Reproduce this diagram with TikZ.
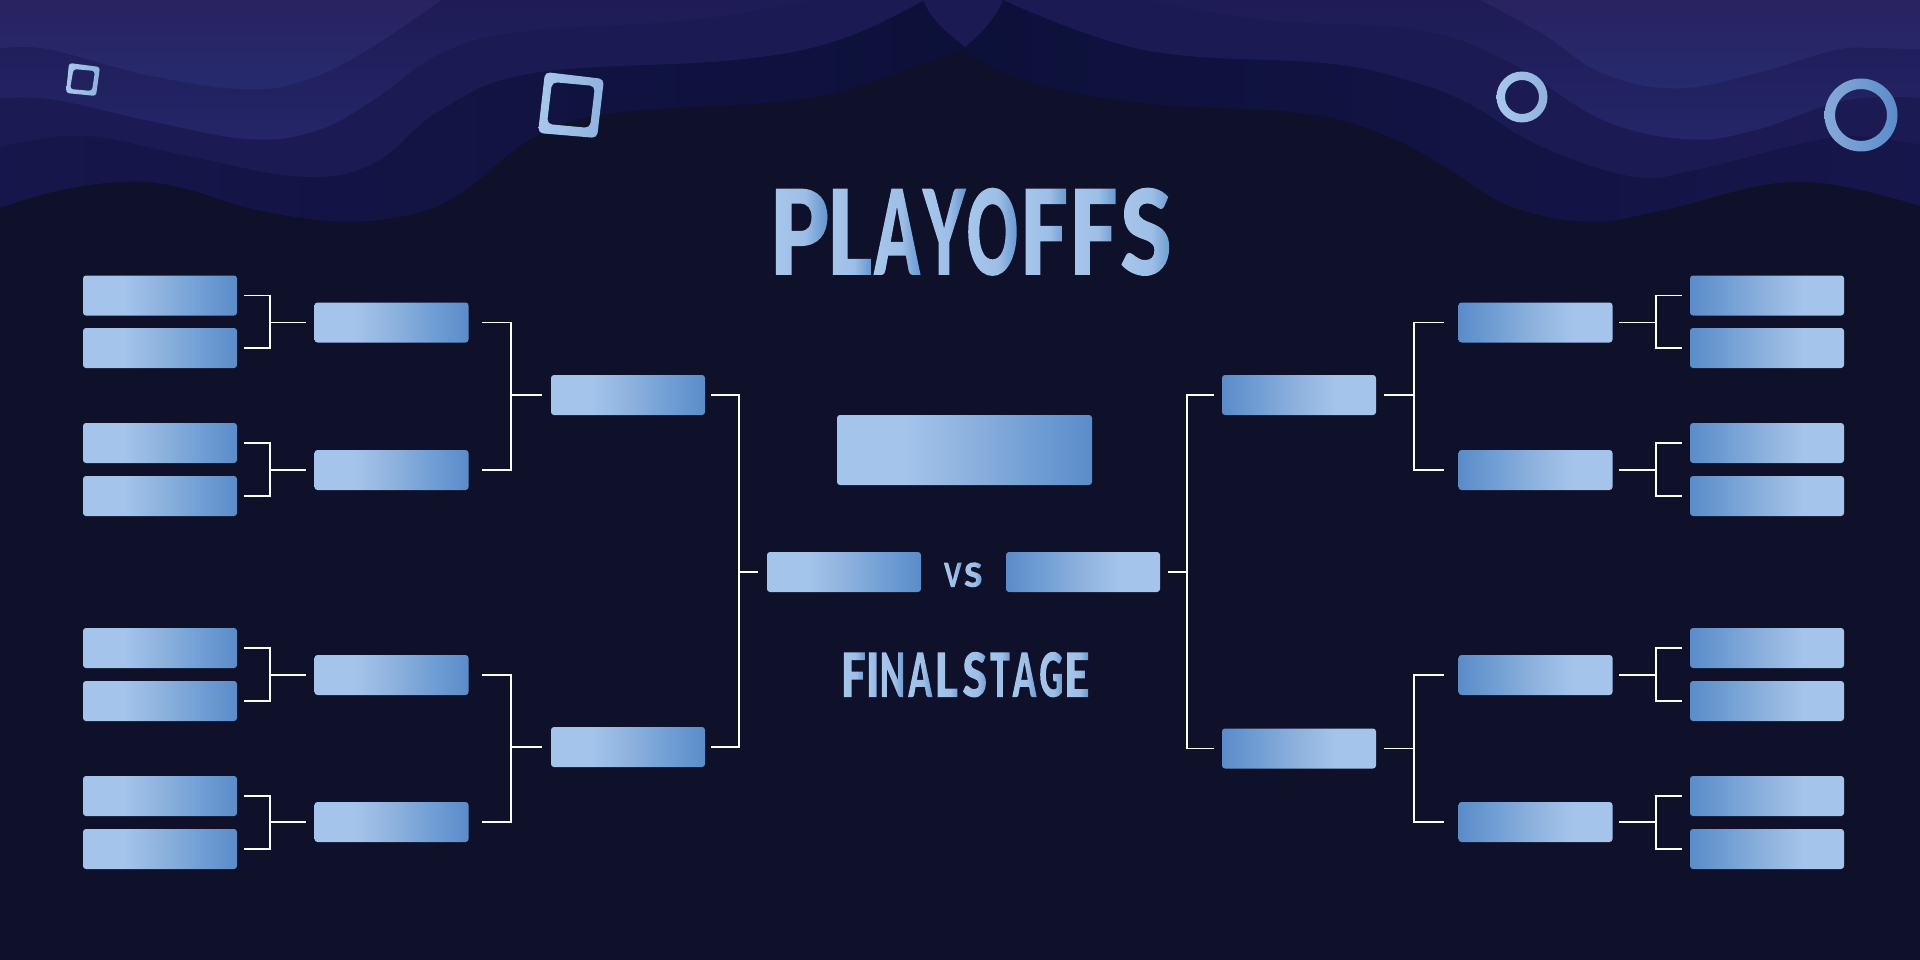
\documentclass[tikz,border=0pt]{standalone}
\usepackage{fontspec}
\newfontfamily\fA[FakeStretch=.54]{Lato Black}
\newfontfamily\fB[FakeStretch=.73]{Lato Black}
\newfontfamily\fC[FakeStretch=.79]{Lato Black}
\newfontfamily\fD[FakeStretch=1.0]{Lato Black}
\makeatletter\let\rawpdf\pgfsys@invoke\makeatother
\definecolor{bgc}{HTML}{0F1029}
\definecolor{wl}{HTML}{A8C7EC}
\definecolor{wm}{HTML}{9DBEE6}
\definecolor{wd}{HTML}{6294CF}
\definecolor{bl}{HTML}{A4C4EB}
\definecolor{bm}{HTML}{8FB3DE}
\definecolor{bq}{HTML}{73A0D5}
\definecolor{bd}{HTML}{5B8CC9}
\definecolor{la}{HTML}{17164C}
\definecolor{lac}{HTML}{0C1139}
\definecolor{lb}{HTML}{1B1A53}
\definecolor{lct}{HTML}{1E1B55}
\definecolor{lcb}{HTML}{242668}
\definecolor{ldt}{HTML}{29225F}
\definecolor{ldb}{HTML}{252B6F}
\definecolor{rl}{HTML}{86A9DA}
\pgfdeclarehorizontalshading{boxL}{100bp}{color(0bp)=(bl); color(25bp)=(bl); color(38bp)=(bl); color(50bp)=(bm); color(62bp)=(bq); color(75bp)=(bd); color(100bp)=(bd)}
\pgfdeclarehorizontalshading{boxR}{100bp}{color(0bp)=(bd); color(25bp)=(bd); color(38bp)=(bq); color(50bp)=(bm); color(62bp)=(bl); color(75bp)=(bl); color(100bp)=(bl)}
\pgfdeclarehorizontalshading{titleshade}{110pt}{color(0pt)=(wl); color(33.6pt)=(wm); color(55.99pt)=(wd); color(56pt)=(wl); color(83pt)=(wm); color(100.99pt)=(wd); color(101pt)=(wl); color(131pt)=(wm); color(150.99pt)=(wd); color(151pt)=(wl); color(177.4pt)=(wm); color(194.99pt)=(wd); color(195pt)=(wl); color(226.8pt)=(wm); color(247.99pt)=(wd); color(248pt)=(wl); color(278pt)=(wm); color(297.99pt)=(wd); color(298pt)=(wl); color(327.4pt)=(wm); color(346.99pt)=(wd); color(347pt)=(wl); color(380.6pt)=(wm); color(403pt)=(wd)}
\pgfdeclarehorizontalshading{stageshade}{60pt}{color(0pt)=(wl); color(15pt)=(wm); color(24.99pt)=(wd); color(25pt)=(wl); color(33.1pt)=(wm); color(38.49pt)=(wd); color(38.5pt)=(wl); color(54.1pt)=(wm); color(64.49pt)=(wd); color(64.5pt)=(wl); color(82.2pt)=(wm); color(93.99pt)=(wd); color(94pt)=(wl); color(109.3pt)=(wm); color(119.49pt)=(wd); color(119.5pt)=(wl); color(136.6pt)=(wm); color(147.99pt)=(wd); color(148pt)=(wl); color(161.2pt)=(wm); color(169.99pt)=(wd); color(170pt)=(wl); color(186.2pt)=(wm); color(196.99pt)=(wd); color(197pt)=(wl); color(212.9pt)=(wm); color(223.49pt)=(wd); color(223.5pt)=(wl); color(238.7pt)=(wm); color(248pt)=(wd)}
\pgfdeclarehorizontalshading{vsshade}{40pt}{color(0pt)=(wl); color(13pt)=(wm); color(21.49pt)=(wd); color(21.5pt)=(wl); color(33.2pt)=(wm); color(41pt)=(wd)}
% gradient-filled real text: glyphs become the clip of the shading
\newcommand\gradtext[3]{\setbox0=\hbox{#3}\rawpdf{q 7 Tr}\copy0\rawpdf{0 Tr}\kern-\wd0\raisebox{-#2}{\pgfuseshading{#1}}\rawpdf{Q}}
\newcommand\lc[2]{\hbox to #1pt{\hss #2\hss}}
\tikzset{
 boxl/.style={rectangle,rounded corners=3pt,minimum width=154pt,minimum height=40pt,inner sep=0pt,shade,shading=boxL},
 boxr/.style={boxl,shading=boxR},
 wire/.style={draw=white,line width=1.8pt},
 wave/.style={smooth,tension=.65},
 word/.style={anchor=base west,inner sep=0pt,outer sep=0pt},
}
% bracket on the left half: a,b feed c
\newcommand\brkL[5]{\draw[wire] ([xshift=#4]#1.east) -| ([xshift=-#5]#3.west) |- ([xshift=#4]#2.east);}
\newcommand\brkR[5]{\draw[wire] ([xshift=-#4]#1.west) -| ([xshift=#5]#3.east) |- ([xshift=-#4]#2.west);}
\begin{document}
\begin{tikzpicture}[x=1pt,y=-1pt]
\useasboundingbox (0,0) rectangle (1920,960);
\fill[bgc] (0,0) rectangle (1920,960);
% waves, left half (layer A to D)
\begin{scope}[x=.6122pt,y=-.33333pt]
\shade[left color=la,middle color=la,right color=lac] plot[wave] coordinates {(-20,635) (100,570) (215,545) (300,565) (420,630) (560,665) (680,640) (760,570) (870,415) (1000,340) (1300,300) (1450,230) (1580,140)} -- (1580,-10) -- (-20,-10) -- cycle;
\fill[lb] plot[wave] coordinates {(-20,450) (130,407) (300,465) (490,530) (610,490) (720,330) (870,220) (1200,180) (1370,120) (1510,0)} -- (1510,-10) -- (-20,-10) -- cycle;
\shade[top color=lct,bottom color=lcb] plot[wave] coordinates {(-20,300) (80,297) (250,365) (410,418) (520,390) (610,300) (720,160) (850,95) (1130,60) (1340,-5)} -- (-20,-10) -- cycle;
\shade[top color=ldt,bottom color=ldb] plot[wave] coordinates {(-20,152) (70,145) (240,225) (400,268) (500,240) (600,150) (725,-5)} -- (-20,-10) -- cycle;
\end{scope}
% waves, right half
\begin{scope}[shift={(960,0)},x=.6122pt,y=-.33333pt]
\shade[left color=lac,middle color=la,right color=la] plot[wave] coordinates {(-10,130) (100,240) (300,310) (560,340) (700,410) (800,510) (900,620) (1030,665) (1150,630) (1370,545) (1580,625)} -- (1580,-10) -- (-10,-10) -- cycle;
\fill[lb] plot[wave] coordinates {(65,-5) (300,150) (600,190) (730,240) (830,310) (950,440) (1100,530) (1200,510) (1400,420) (1480,410) (1580,437)} -- (1580,-10) -- cycle;
\shade[top color=lct,bottom color=lcb] plot[wave] coordinates {(290,-5) (500,60) (750,90) (900,190) (1050,360) (1190,418) (1300,390) (1450,300) (1580,295)} -- (1580,-10) -- cycle;
\shade[top color=ldt,bottom color=ldb] plot[wave] coordinates {(845,-5) (950,100) (1050,220) (1170,265) (1300,220) (1430,150) (1500,145) (1580,150)} -- (1580,-10) -- cycle;
\end{scope}
% central wedge
\fill[lb] (923,-1) .. controls (930,20) and (950,35) .. (965,47) .. controls (982,33) and (998,15) .. (1003,-1) -- cycle;
% tilted squares
\shade[left color=wl,right color=bm,even odd rule,rounded corners=3pt] (69,63) -- (100,67) -- (96,96) -- (66,93) -- cycle (73.5,69) -- (95,71) -- (92,91) -- (70,89) -- cycle;
\shade[left color=wl,right color=bm,even odd rule,rounded corners=5pt] (545,72) -- (604,79) -- (597,138) -- (538,133) -- cycle (552,82) -- (595,86) -- (590,128) -- (547,124) -- cycle;
% rings
\shade[left color=wl,right color=bm,even odd rule] (1522,97) circle[radius=25.5] (1522,97) circle[radius=17];
\shade[left color=rl,right color=bd,even odd rule] (1861,115) circle[radius=36.5] (1861,115) circle[radius=26];
% title
\node[word] (title) at (771,275) {\gradtext{titleshade}{15pt}{\fontsize{118.6}{120}\selectfont\fC\lc{56}{P}\fB\lc{45}{L}\fA\lc{50}{A}\lc{44}{Y}\lc{53}{O}\fB\lc{50}{F}\lc{49}{F}\fC\lc{56}{S}}};
\node[word] (stage) at (841,697) {\gradtext{stageshade}{8pt}{\fontsize{61.4}{62}\selectfont\fB\lc{25}{F}\lc{13.5}{I}\fA\lc{26}{N}\lc{29.5}{A}\fB\lc{22.5}{L}\kern3pt\lc{28.5}{S}\fA\lc{22}{T}\lc{27}{A}\lc{26.5}{G}\fB\lc{24.5}{E}}};
\node[word] (vs) at (942,587) {\gradtext{vsshade}{6pt}{\fontsize{33.5}{34}\selectfont\fB\lc{21.5}{V}\fD\lc{19.5}{S}}};
% champion box
\node[boxl,minimum width=255pt,minimum height=70pt] (champ) at (964.5,450) {};
% left boxes
\node[boxl] (a1) at (160,295.5) {};
\node[boxl] (a2) at (160,348) {};
\node[boxl] (a3) at (160,443) {};
\node[boxl] (a4) at (160,496) {};
\node[boxl] (a5) at (160,648) {};
\node[boxl] (a6) at (160,701) {};
\node[boxl] (a7) at (160,796) {};
\node[boxl] (a8) at (160,849) {};
\node[boxl] (b1) at (391.5,322.5) {};
\node[boxl] (b2) at (391.5,470) {};
\node[boxl] (b3) at (391.5,675) {};
\node[boxl] (b4) at (391.5,822) {};
\node[boxl] (c1) at (628,395) {};
\node[boxl] (c2) at (628,747) {};
\node[boxl] (d1) at (844,572) {};
% right boxes
\node[boxr] (e1) at (1767,295.5) {};
\node[boxr] (e2) at (1767,348) {};
\node[boxr] (e3) at (1767,443) {};
\node[boxr] (e4) at (1767,496) {};
\node[boxr] (e5) at (1767,648) {};
\node[boxr] (e6) at (1767,701) {};
\node[boxr] (e7) at (1767,796) {};
\node[boxr] (e8) at (1767,849) {};
\node[boxr] (f1) at (1535.5,322.5) {};
\node[boxr] (f2) at (1535.5,470) {};
\node[boxr] (f3) at (1535.5,675) {};
\node[boxr] (f4) at (1535.5,822) {};
\node[boxr] (g1) at (1299,395) {};
\node[boxr] (g2) at (1299,748.5) {};
\node[boxr] (h1) at (1083,572) {};
% left brackets
\brkL{a1}{a2}{b1}{7}{44}\draw[wire] ([xshift=-44]b1.west) -- ([xshift=-8]b1.west);
\brkL{a3}{a4}{b2}{7}{44}\draw[wire] ([xshift=-44]b2.west) -- ([xshift=-8]b2.west);
\brkL{a5}{a6}{b3}{7}{44}\draw[wire] ([xshift=-44]b3.west) -- ([xshift=-8]b3.west);
\brkL{a7}{a8}{b4}{7}{44}\draw[wire] ([xshift=-44]b4.west) -- ([xshift=-8]b4.west);
\brkL{b1}{b2}{c1}{13}{39.5}\draw[wire] ([xshift=-39.5]c1.west) -- ([xshift=-9]c1.west);
\brkL{b3}{b4}{c2}{13}{39.5}\draw[wire] ([xshift=-39.5]c2.west) -- ([xshift=-9]c2.west);
\brkL{c1}{c2}{d1}{6}{27.5}\draw[wire] ([xshift=-27.5]d1.west) -- ([xshift=-9]d1.west);
% right brackets
\brkR{e1}{e2}{f1}{8}{43}\draw[wire] ([xshift=43]f1.east) -- ([xshift=6]f1.east);
\brkR{e3}{e4}{f2}{8}{43}\draw[wire] ([xshift=43]f2.east) -- ([xshift=6]f2.east);
\brkR{e5}{e6}{f3}{8}{43}\draw[wire] ([xshift=43]f3.east) -- ([xshift=6]f3.east);
\brkR{e7}{e8}{f4}{8}{43}\draw[wire] ([xshift=43]f4.east) -- ([xshift=6]f4.east);
\brkR{f1}{f2}{g1}{14}{38}\draw[wire] ([xshift=38]g1.east) -- ([xshift=8]g1.east);
\brkR{f3}{f4}{g2}{14}{38}\draw[wire] ([xshift=38]g2.east) -- ([xshift=8]g2.east);
\brkR{g1}{g2}{h1}{8}{27}\draw[wire] ([xshift=27]h1.east) -- ([xshift=8]h1.east);
\end{tikzpicture}
\end{document}
